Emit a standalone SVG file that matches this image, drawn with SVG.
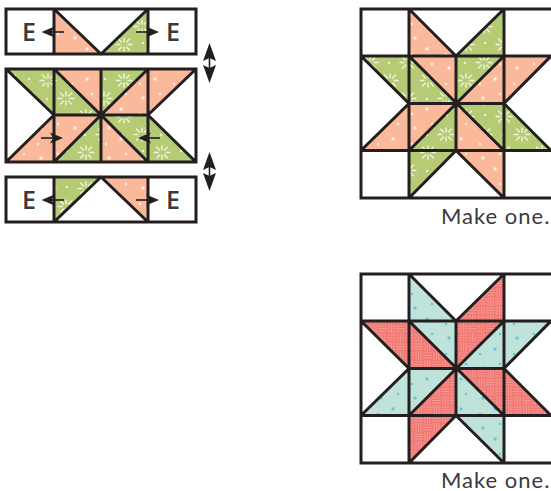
<svg xmlns="http://www.w3.org/2000/svg" width="551" height="491" viewBox="0 0 551 491">
<style>
.ln{stroke:#231f20;stroke-width:3;fill:none;stroke-linejoin:miter}
.lb{font-family:"Lato","Open Sans",sans-serif;font-size:22px;letter-spacing:1px;fill:#3a3a3c}
.e{font-family:"Open Sans","Liberation Sans",sans-serif;font-size:25px;font-weight:600;fill:#3a3a3c;text-anchor:middle}
.ar{fill:#231f20;stroke:none}
.as{stroke:#231f20;stroke-width:1.600;fill:none}
</style>
<defs>
<pattern id="or" width="34" height="30" patternUnits="userSpaceOnUse">
<rect width="34" height="30" fill="#fab99b"/>
<circle cx="7" cy="8" r="1.700" fill="#fdeee4"/><circle cx="24" cy="4" r="1.200" fill="#fdeee4"/><circle cx="19" cy="19" r="1.700" fill="#fdeee4"/><circle cx="4" cy="24" r="1.200" fill="#fdeee4"/>
</pattern>
<pattern id="gr" width="38" height="36" patternUnits="userSpaceOnUse">
<rect width="38" height="36" fill="#b5cb74"/>
<g stroke="#eef3da" stroke-width="1.500" stroke-linecap="round">
<path d="M10 2v4M10 11v4M2 8.500h4M14 8.500h4M4.500 3l3 3M12.500 11l3 3M15.500 3l-3 3M7.500 11l-3 3"/>
<path d="M28 20v4M28 29v4M20 26.500h4M32 26.500h4M22.500 21l3 3M30.500 29l3 3M33.500 21l-3 3M25.500 29l-3 3"/>
</g>
<circle cx="29" cy="7" r="1.200" fill="#eef3da"/><circle cx="9" cy="27" r="1.200" fill="#eef3da"/>
</pattern>
<pattern id="te" width="34" height="30" patternUnits="userSpaceOnUse">
<rect width="34" height="30" fill="#bfe3da"/>
<circle cx="7" cy="8" r="1.700" fill="#6fc6d6"/><circle cx="24" cy="4" r="1.300" fill="#6fc6d6"/><circle cx="19" cy="19" r="1.700" fill="#6fc6d6"/><circle cx="4" cy="24" r="1.300" fill="#6fc6d6"/>
</pattern>
<pattern id="rd" width="18" height="18" patternUnits="userSpaceOnUse">
<rect width="18" height="18" fill="#f27773"/>
<g stroke="#f9a39c" stroke-width=".8"><path d="M0 2h9M0 4.500h9M0 7h9M11 0v9M13.500 0v9M16 0v9M2 9v9M4.500 9v9M7 9v9M9 11h9M9 13.500h9M9 16h9"/></g>
</pattern>
<path id="hd" class="ar" d="M0 0L-13 -5.500L-10 0L-13 5.500Z"/>
<path id="hb" class="ar" d="M0 0L-18 -6.500L-15 0L-18 6.500Z"/>
</defs>

<rect width="551" height="491" fill="#fff"/>

<g id="strip-top">
<rect x="6" y="9" width="190" height="45" fill="#fff"/>
<path fill="url(#or)" d="M54 9V54H101Z"/><path fill="url(#gr)" d="M148 9V54H101Z"/>
<path class="ln" d="M6 9H196V54H6ZM54 9V54M148 9V54M54 9L101 54L148 9"/>
<text class="e" x="29" y="41">E</text><text class="e" x="173" y="41">E</text>
</g>
<g id="strip-middle">
<rect x="6" y="69" width="190" height="93" fill="#fff"/>
<path fill="url(#gr)" d="M6 69H54V115ZM54 69V115H101ZM101 69H148L101 115ZM148 115V162H196ZM101 115H148V162ZM101 115L54 162H101Z"/>
<path fill="url(#or)" d="M54 69H101V115ZM148 69H196L148 115ZM148 69V115H101ZM54 115V162H6ZM54 115H101L54 162ZM101 115V162H148Z"/>
<path class="ln" d="M6 69H196V162H6ZM54 69V162M101 69V162M148 69V162M54 115H148M6 69L54 115M54 69L101 115L148 162M148 115L196 162M196 69L148 115M148 69L101 115L54 162M54 115L6 162"/>
</g>
<g id="strip-bottom">
<rect x="6" y="177" width="190" height="45" fill="#fff"/>
<path fill="url(#gr)" d="M54 177H101L54 222Z"/><path fill="url(#or)" d="M101 177H148V222Z"/>
<path class="ln" d="M6 177H196V222H6ZM54 177V222M148 177V222M54 222L101 177L148 222"/>
<text class="e" x="29" y="209">E</text><text class="e" x="173" y="209">E</text>
</g>

<g id="connectors">
<g id="press-arrows">
<path class="as" d="M46 32H64"/><use href="#hd" transform="translate(41.500 32) rotate(180)"/>
<path class="as" d="M136 32H154"/><use href="#hd" transform="translate(159 32)"/>
<path class="as" d="M41 138H58"/><use href="#hd" transform="translate(63 138)"/>
<path class="as" d="M143 138H160"/><use href="#hd" transform="translate(138 138) rotate(180)"/>
<path class="as" d="M46 200H64"/><use href="#hd" transform="translate(41.500 200) rotate(180)"/>
<path class="as" d="M136 200H154"/><use href="#hd" transform="translate(159 200)"/>
</g>
<g id="row-arrows">
<path class="as" d="M209.500 55V71"/><use href="#hb" transform="translate(209.500 43) rotate(-90)"/><use href="#hb" transform="translate(209.500 83) rotate(90)"/>
<path class="as" d="M209.500 164V179"/><use href="#hb" transform="translate(209.500 152) rotate(-90)"/><use href="#hb" transform="translate(209.500 191) rotate(90)"/>
</g>
</g>

<g id="block-orange-green">
<rect x="361" y="9" width="190" height="189" fill="#fff"/>
<path fill="url(#or)" d="M409 9V56H456ZM409 56H456V103.500ZM504 56H551L504 103.500ZM504 56V103.500H456ZM409 103.500V150.500H361ZM409 103.500H456L409 150.500ZM456 103.500V150.500H504ZM456 150.500H504V198Z"/>
<path fill="url(#gr)" d="M504 9V56H456ZM361 56H409V103.500ZM409 56V103.500H456ZM456 56H504L456 103.500ZM456 103.500H504V150.500ZM504 103.500V150.500H551ZM456 103.500L409 150.500H456ZM409 150.500H456L409 198Z"/>
<path class="ln" d="M361 9H553V198H361ZM361 56H553M361 150.500H553M409 9V198M456 56V150.500M504 9V198M409 103.500H504M409 9L456 56L504 9M361 56L409 103.500L361 150.500M409 56L504 150.500M504 56L409 150.500M551 56L504 103.500L551 150.500M409 198L456 150.500L504 198"/>
<text class="lb" x="441" y="224">Make one.</text>
</g>

<g id="block-teal-red">
<rect x="361" y="274" width="190" height="189" fill="#fff"/>
<path fill="url(#te)" d="M409 274V321H456ZM409 321H456V368.500ZM504 321H551L504 368.500ZM504 321V368.500H456ZM409 368.500V415.500H361ZM409 368.500H456L409 415.500ZM456 368.500V415.500H504ZM456 415.500H504V463Z"/>
<path fill="url(#rd)" d="M504 274V321H456ZM361 321H409V368.500ZM409 321V368.500H456ZM456 321H504L456 368.500ZM456 368.500H504V415.500ZM504 368.500V415.500H551ZM456 368.500L409 415.500H456ZM409 415.500H456L409 463Z"/>
<path class="ln" d="M361 274H553V463H361ZM361 321H553M361 415.500H553M409 274V463M456 321V415.500M504 274V463M409 368.500H504M409 274L456 321L504 274M361 321L409 368.500L361 415.500M409 321L504 415.500M504 321L409 415.500M551 321L504 368.500L551 415.500M409 463L456 415.500L504 463"/>
<text class="lb" x="441" y="487.500">Make one.</text>
</g>
</svg>
